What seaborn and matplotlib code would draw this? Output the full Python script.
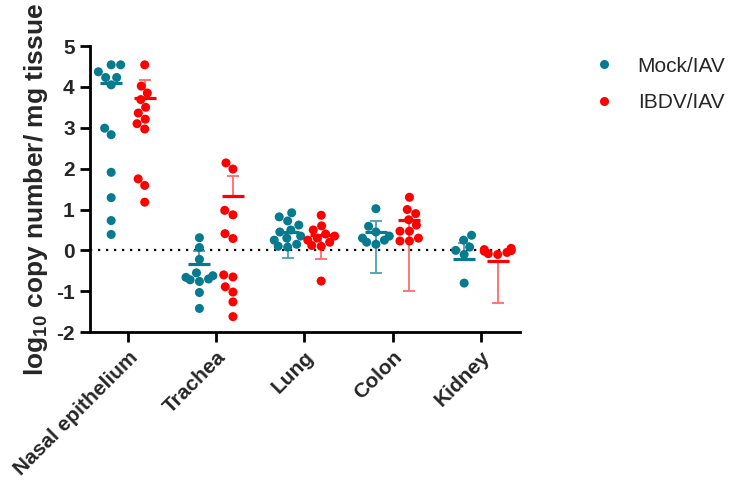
import numpy as np
import pandas as pd
import matplotlib
matplotlib.use("Agg")
import matplotlib.pyplot as plt
import seaborn as sns
from matplotlib.lines import Line2D

tissues = ['Nasal epithelium', 'Trachea', 'Lung', 'Colon', 'Kidney']
groups = ['Mock/IAV', 'IBDV/IAV']

# individual birds, log10 copy number / mg tissue
mock_nasal = [4.54, 4.54, 4.37, 4.23, 4.23, 4.05, 2.99, 2.83, 1.91, 1.29, 0.73, 0.39]
mock_trachea = [0.31, 0.07, -0.22, -0.55, -0.62, -0.66, -0.70, -0.72, -0.76, -1.03, -1.42]
mock_lung = [0.92, 0.82, 0.72, 0.62, 0.50, 0.45, 0.35, 0.30, 0.25, 0.15, 0.10, 0.08]
mock_colon = [1.02, 0.59, 0.45, 0.35, 0.30, 0.25, 0.20, 0.15]
mock_kidney = [0.37, 0.25, 0.08, 0.0, -0.10, -0.80]

ibdv_nasal = [4.54, 4.02, 3.85, 3.69, 3.50, 3.36, 3.21, 3.10, 2.97, 1.75, 1.59, 1.18]
ibdv_trachea = [2.14, 1.99, 0.98, 0.87, 0.41, 0.29, -0.60, -0.65, -0.89, -1.02, -1.26, -1.62]
ibdv_lung = [0.86, 0.60, 0.50, 0.40, 0.35, 0.30, 0.25, 0.20, 0.12, 0.10, -0.75]
ibdv_colon = [1.30, 1.00, 0.90, 0.75, 0.62, 0.47, 0.47, 0.30, 0.23, 0.23]
ibdv_kidney = [0.05, 0.02, 0.0, 0.0, -0.02, -0.05, -0.08, -0.10]

# centre line and error bar ends as drawn
mock_center = [4.09, -0.34, 0.45, 0.45, -0.22]
mock_low = [4.09, -0.34, -0.19, -0.56, -0.22]
mock_high = [4.09, -0.02, 0.45, 0.71, 0.18]
ibdv_center = [3.74, 1.32, 0.37, 0.74, -0.26]
ibdv_low = [3.74, 1.32, -0.22, -1.00, -1.28]
ibdv_high = [4.17, 1.83, 0.37, 0.74, -0.26]

teal = '#067A8F'
red = '#FF0000'
teal_light = '#45A3B4'
red_light = '#FF6B6B'

pos = np.arange(len(tissues))
off = 0.19  # dodge of each group from the tissue tick

rows = []
for g, shift, lists in zip(groups, [-off, off],
                           [[mock_nasal, mock_trachea, mock_lung, mock_colon, mock_kidney],
                            [ibdv_nasal, ibdv_trachea, ibdv_lung, ibdv_colon, ibdv_kidney]]):
    for i, (t, vals) in enumerate(zip(tissues, lists)):
        for v in vals:
            rows.append({'tissue': t, 'group': g, 'xpos': i + shift, 'value': v})
df = pd.DataFrame(rows)

sns.set_style('white')
plt.rcParams['font.family'] = ['Liberation Sans', 'DejaVu Sans']
plt.rcParams['mathtext.fontset'] = 'custom'
plt.rcParams['mathtext.bf'] = 'Liberation Sans:bold'
plt.rcParams['mathtext.rm'] = 'Liberation Sans:bold'
plt.rcParams['axes.unicode_minus'] = False

fig = plt.figure(figsize=(7.34, 4.87), dpi=100)
ax = fig.add_axes([0.1226, 0.318, 0.5855, 0.5875])

sns.swarmplot(data=df, x='xpos', y='value', hue='group', hue_order=groups,
              native_scale=True,
              palette={'Mock/IAV': teal, 'IBDV/IAV': red}, size=6.5,
              linewidth=0, ax=ax, legend=False, zorder=3, warn_thresh=1)

for shift, c, lo, hi, col, lcol in [(-off, mock_center, mock_low, mock_high, teal, teal_light),
                                   (off, ibdv_center, ibdv_low, ibdv_high, red, red_light)]:
    c = np.array(c)
    yerr = [c - np.array(lo), np.array(hi) - c]
    ax.errorbar(pos + shift, c, yerr=yerr, fmt='none', ecolor=lcol, elinewidth=1.3,
                capsize=4.3, capthick=1.3, zorder=2)
    ax.hlines(c, pos + shift - 0.125, pos + shift + 0.125, colors=col, lw=2.3, zorder=4)

ax.axhline(0, xmin=0, xmax=0.98, color='black', lw=1.6, ls=(0, (1, 2.6)), zorder=1)

ax.set_ylim(-2, 5)
ax.set_xlim(-0.43, 4.44)
ax.set_yticks(range(-2, 6))
sns.despine(ax=ax)
for s in ['left', 'bottom']:
    ax.spines[s].set_linewidth(2.0)
    ax.spines[s].set_color('black')
ax.tick_params(axis='both', which='major', length=7.5, width=2.0, color='black',
               labelsize=15, direction='out', left=True, bottom=True)
ax.set_xticks(pos)
ax.set_xticklabels(tissues, rotation=45, ha='right', rotation_mode='anchor', fontweight='bold')
for lab in ax.get_yticklabels():
    lab.set_fontweight('bold')
ax.set_xlabel('')
ax.set_ylabel(r'log$_{\mathbf{10}}$ copy number/ mg tissue', fontsize=19, fontweight='bold', labelpad=4)

handles = [Line2D([], [], ls='none', marker='o', ms=6.5, color=teal, mec='none'),
           Line2D([], [], ls='none', marker='o', ms=6.5, color=red, mec='none')]
ax.legend(handles, groups, loc='upper left', bbox_to_anchor=(0.795, 0.905),
          bbox_transform=fig.transFigure, frameon=False, fontsize=15,
          handlelength=1.0, handletextpad=1.1, labelspacing=0.85, borderpad=0)

fig.savefig('out.png', dpi=100)
